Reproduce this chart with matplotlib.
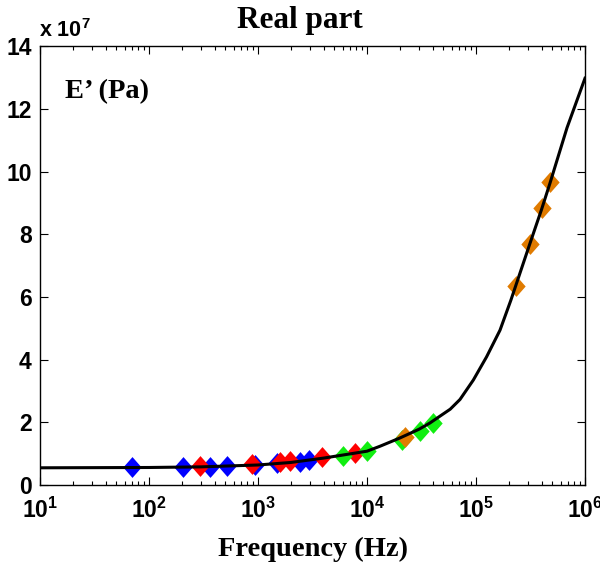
import numpy as np
import matplotlib
matplotlib.use("Agg")
import matplotlib.pyplot as plt
from matplotlib.ticker import LogLocator, NullFormatter, FixedLocator

plt.rcParams.update(
    {
        "font.family": "Liberation Sans",
        "font.weight": "bold",
        "mathtext.fontset": "custom",
        "mathtext.rm": "Liberation Sans:bold",
        "mathtext.bf": "Liberation Sans:bold",
        "mathtext.it": "Liberation Sans:bold",
    }
)

# measured points, E' in units of 1e7 Pa
f_blue = [70, 205, 363, 520, 930, 1490, 2430, 2940]
e_blue = [0.58, 0.58, 0.58, 0.60, 0.64, 0.70, 0.75, 0.80]

f_red = [294, 890, 1590, 1950, 3870, 7770]
e_red = [0.60, 0.68, 0.72, 0.78, 0.90, 1.02]

f_green = [6030, 9960, 21000, 30600, 40300]
e_green = [0.92, 1.09, 1.45, 1.72, 1.98]

f_orange = [22300, 231000, 312000, 401000, 477000]
e_orange = [1.54, 6.35, 7.68, 8.83, 9.66]

# fitted curve
f_fit = [10, 100, 300, 1000, 2000, 4000, 10000, 13200, 20000, 30000, 37800,
         46800, 58000, 71300, 94500, 125000, 166000, 209000, 312000, 400000,
         477000, 684000, 1000000]
e_fit = [0.55, 0.56, 0.58, 0.64, 0.72, 0.86, 1.08, 1.24, 1.50, 1.78, 1.98,
         2.20, 2.42, 2.73, 3.35, 4.09, 4.94, 5.90, 7.70, 8.80, 9.63, 11.40,
         12.98]

x_ticks = [10, 100, 1000, 10000, 100000, 1000000]
x_labels = [r"$10^{%d}$" % k for k in range(1, 7)]
y_ticks = [0, 2, 4, 6, 8, 10, 12, 14]

fig = plt.figure(figsize=(6, 5.64), dpi=100)
ax = fig.add_axes([0.0667, 0.140, 0.9083, 0.778])

# slightly tall diamond
diamond = [(0, 1), (0.88, 0), (0, -1), (-0.88, 0), (0, 1)]
ms = 15
ax.plot(f_blue, e_blue, ls="none", marker=diamond, color="#0000FF", ms=ms, mec="none", zorder=2)
ax.plot(f_red, e_red, ls="none", marker=diamond, color="#FF0000", ms=ms, mec="none", zorder=2)
ax.plot(f_green, e_green, ls="none", marker=diamond, color="#11EE11", ms=ms, mec="none", zorder=2)
ax.plot(f_orange, e_orange, ls="none", marker=diamond, color="#E07B00", ms=ms, mec="none", zorder=2)
ax.plot(f_fit, e_fit, "-", color="black", lw=2.2, zorder=3)

ax.set_xscale("log")
ax.set_xlim(10, 1e6)
ax.set_ylim(0, 14)
ax.xaxis.set_major_locator(FixedLocator(x_ticks))
ax.set_xticklabels(x_labels)
ax.xaxis.set_minor_locator(LogLocator(base=10, subs=np.arange(2, 10)))
ax.xaxis.set_minor_formatter(NullFormatter())
ax.set_yticks(y_ticks)

ax.tick_params(axis="both", which="both", direction="in", top=True, right=True,
               labelsize=16.5, width=0.8)
ax.tick_params(which="major", length=6)
ax.tick_params(which="minor", length=3)
ax.tick_params(axis="x", pad=9)
ax.tick_params(axis="y", pad=6)
for sp in ax.spines.values():
    sp.set_linewidth(1.0)

ax.set_xlabel("Frequency (Hz)", family="Liberation Serif", fontsize=20.5,
              fontweight="bold", labelpad=10)
fig.text(0.5, 0.963, "Real part", family="Liberation Serif", fontsize=22.5,
         fontweight="bold", ha="center", va="center")
ax.text(0.046, 0.881, "E\u2019 (Pa)", transform=ax.transAxes,
        family="Liberation Serif", fontsize=20.5, fontweight="bold")
fig.text(0.065, 0.935, r"x 10$^7$", fontsize=15.5, fontweight="bold")

fig.savefig("out.png", dpi=100)
